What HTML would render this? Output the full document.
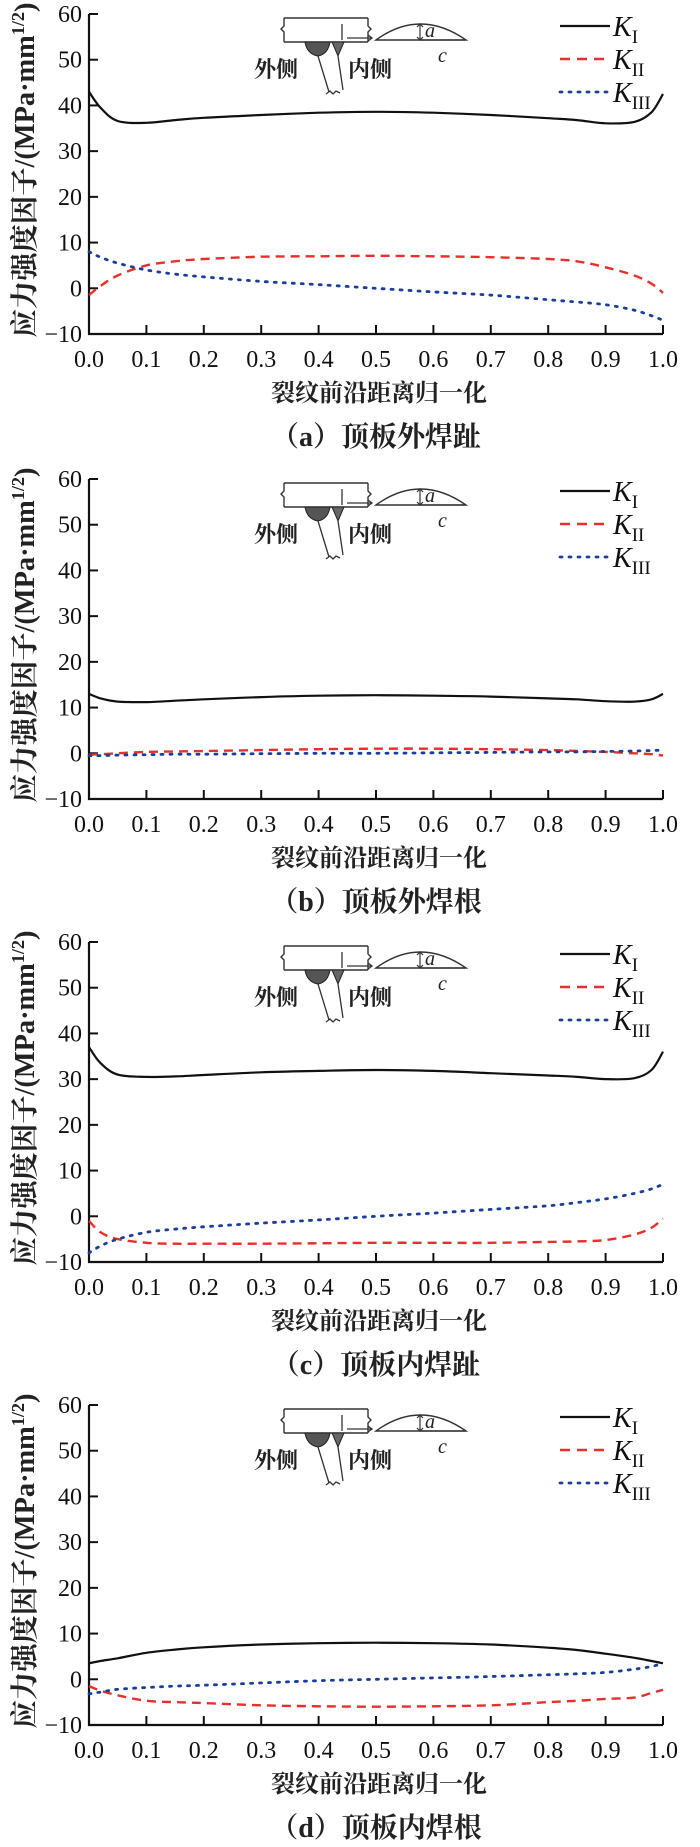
<!DOCTYPE html>
<html><head><meta charset="utf-8">
<style>
html,body{margin:0;padding:0;background:#fff;}
svg{display:block;}
</style></head>
<body>
<svg id="chart" width="700" height="1847" viewBox="0 0 700 1847" xmlns="http://www.w3.org/2000/svg"></svg>
<script>
const xGrid = [0,0.02,0.05,0.1,0.15,0.2,0.3,0.4,0.5,0.6,0.7,0.8,0.85,0.9,0.95,0.98,1.0];
const panelCaptions = ["（a）顶板外焊趾","（b）顶板外焊根","（c）顶板内焊趾","（d）顶板内焊根"];
const yTicks = [60,50,40,30,20,10,0,-10];
const xTicks = [0,0.1,0.2,0.3,0.4,0.5,0.6,0.7,0.8,0.9,1.0];
const aKI  = [43,39.5,36.6,36.2,36.8,37.3,37.9,38.4,38.6,38.4,37.9,37.2,36.8,36.1,36.4,38.5,42.5];
const aKII = [-1.5,0.5,2.8,5,5.9,6.4,6.9,7,7.1,7,6.8,6.4,5.9,4.6,2.8,1,-1];
const aKIII= [8,6.8,5.5,4,3.1,2.5,1.5,0.8,0,-0.8,-1.5,-2.5,-3,-3.6,-4.8,-6,-7];
const bKI  = [13,12,11.3,11.2,11.5,11.8,12.3,12.6,12.7,12.6,12.4,12,11.8,11.4,11.3,11.8,13];
const bKII = [-0.3,-0.2,0,0.3,0.4,0.5,0.7,0.9,1,1,0.9,0.7,0.5,0.3,0,-0.2,-0.5];
const bKIII= [-0.5,-0.5,-0.4,-0.3,-0.2,-0.2,-0.1,0,0,0.1,0.2,0.3,0.3,0.4,0.5,0.6,0.7];
const cKI  = [37,33.5,31,30.5,30.6,30.9,31.5,31.8,32,31.8,31.3,30.8,30.5,30,30.2,32,36];
const cKII = [-1,-3.5,-5,-5.8,-6,-6,-6,-5.9,-5.8,-5.8,-5.8,-5.6,-5.5,-5.2,-4,-2.5,-0.5];
const cKIII= [-8,-6.5,-5,-3.5,-2.8,-2.3,-1.5,-0.8,0,0.7,1.5,2.3,3,3.8,5,6,7];
const dKI  = [3.5,4,4.6,5.8,6.5,7,7.6,7.9,8,7.9,7.6,6.9,6.4,5.6,4.7,4,3.5];
const dKII = [-1.5,-2.5,-3.5,-4.7,-5,-5.2,-5.7,-5.9,-6,-5.9,-5.7,-5,-4.7,-4.3,-4,-3,-2.3];
const dKIII= [-3.2,-2.8,-2.2,-1.8,-1.5,-1.3,-0.8,-0.3,0,0.3,0.6,1,1.2,1.5,2.2,2.8,3.5];
const panelSeries = [[aKI,aKII,aKIII],[bKI,bKII,bKIII],[cKI,cKII,cKIII],[dKI,dKII,dKIII]];

const NS="http://www.w3.org/2000/svg";
const svg=document.getElementById('chart');
const panelTops=[14,479,942,1405];
const X0=89,X1=663,PH=320;
const styles=[{c:'#111',d:null,w:2.2},{c:'#e8302a',d:'9,6',w:2.4},{c:'#1a3f9a',d:'2,7',w:2.8}];
function mk(tag,attrs,parent){const e=document.createElementNS(NS,tag);for(const k in attrs)e.setAttribute(k,attrs[k]);(parent||svg).appendChild(e);return e;}
const serif='"Liberation Serif","Noto Serif CJK SC",serif';
const cjk='"Liberation Serif","Noto Serif CJK SC","Noto Sans CJK SC",serif';
function smooth(pts){
  let d='M'+pts[0][0].toFixed(1)+','+pts[0][1].toFixed(1);
  for(let i=0;i<pts.length-1;i++){
    const p0=pts[Math.max(i-1,0)],p1=pts[i],p2=pts[i+1],p3=pts[Math.min(i+2,pts.length-1)];
    const c1x=p1[0]+(p2[0]-p0[0])/6,c1y=p1[1]+(p2[1]-p0[1])/6;
    const c2x=p2[0]-(p3[0]-p1[0])/6,c2y=p2[1]-(p3[1]-p1[1])/6;
    d+=` C${c1x.toFixed(1)},${c1y.toFixed(1)} ${c2x.toFixed(1)},${c2y.toFixed(1)} ${p2[0].toFixed(1)},${p2[1].toFixed(1)}`;
  }
  return d;
}

panelSeries.forEach((series,pi)=>{
  const T=panelTops[pi];
  const xs=v=>X0+v*(X1-X0);
  const ys=v=>T+(60-v)/70*PH;
  const g=mk('g',{});
  
  
  const ax=mk('path',{d:`M${X0},${T} V${T+PH} H${X1}`,stroke:'#111','stroke-width':2.2,fill:'none'},g);
  
  
  yTicks.forEach(t=>{
    const y=ys(t);
    mk('line',{x1:X0,x2:X0+9,y1:y,y2:y,stroke:'#111','stroke-width':2},g);
    const tx=mk('text',{x:X0-7,y:y+8,'text-anchor':'end','font-family':serif,'font-size':24,fill:'#111'},g);
    tx.textContent=(t<0?'\u2212'+(-t):t);
    
    
  });
  xTicks.forEach(t=>{
    const x=xs(t);
    mk('line',{x1:x,x2:x,y1:T+PH,y2:T+PH-9,stroke:'#111','stroke-width':2},g);
    const tx=mk('text',{x:x,y:T+PH+33,'text-anchor':'middle','font-family':serif,'font-size':24,fill:'#111'},g);
    tx.textContent=t.toFixed(1);
    
    
  });
  const xt=mk('text',{x:(X0+X1)/2+3,y:T+PH+67,'text-anchor':'middle','font-family':cjk,'font-size':24,'font-weight':'bold',fill:'#222'},g);
  xt.textContent='裂纹前沿距离归一化';
  
  
  const cap=mk('text',{x:(X0+X1)/2+0,y:T+PH+112,'text-anchor':'middle','font-family':cjk,'font-size':28,'font-weight':'bold',fill:'#222'},g);
  cap.textContent=panelCaptions[pi];
  
  
  const yt=mk('text',{x:0,y:0,transform:`translate(34,${T+PH/2-4}) rotate(-90)`,'text-anchor':'middle','font-family':cjk,'font-size':28,'font-weight':'bold',fill:'#222',textLength:335,lengthAdjust:'spacingAndGlyphs'},g);
  yt.innerHTML='应力强度因子/(MPa·mm<tspan dy="-10" font-size="18">1/2</tspan><tspan dy="10">)</tspan>';
  
  
  const names=['k1','k2','k3'];
  series.forEach((vals,si)=>{
    const pts=vals.map((v,i)=>[xs(xGrid[i]),ys(v)]);
    const st=styles[si];
    const p=mk('path',{d:smooth(pts),stroke:st.c,'stroke-width':st.w,fill:'none','stroke-linejoin':'round','stroke-linecap':si==2?'round':'butt'},g);
    if(st.d)p.setAttribute('stroke-dasharray',st.d);
    
    
  });
  const subs=['I','II','III'];
  subs.forEach((s,si)=>{
    const ly=T+12+si*33;
    const st=styles[si];
    const l=mk('line',{x1:560,x2:610,y1:ly,y2:ly,stroke:st.c,'stroke-width':st.w,'stroke-linecap':si==2?'round':'butt'},g);
    if(st.d)l.setAttribute('stroke-dasharray',si==1?'10,7':'2,7');
    
    
    const t=mk('text',{x:613,y:ly+10,'font-family':serif,'font-size':28,'font-style':'italic',fill:'#111'},g);
    t.innerHTML='K<tspan dy="7" font-size="19" font-style="normal">'+s+'</tspan>';
    
    
  });
  const ig=mk('g',{transform:`translate(0,${T})`},g);
  
  
  mk('path',{d:'M284,4 H368 M284,28 H368 M284,4 V12 l-3,3 l3,3 V28 M368,4 V12 l3,3 l-3,3 V28',stroke:'#333','stroke-width':1.4,fill:'none'},ig);
  mk('path',{d:'M305,28 H330 Q328,40 318,42 Q307,40 305,28 Z',fill:'#555',stroke:'#222','stroke-width':1},ig);
  mk('path',{d:'M332,28 H344 L338,42 Z',fill:'#666',stroke:'#222','stroke-width':1},ig);
  mk('path',{d:'M318,42 L329,78 M338,42 L343,76 M326,80 l4,-3 l3,3 l3,-3 l4,2',stroke:'#333','stroke-width':1.3,fill:'none'},ig);
  mk('path',{d:'M342,10 V26 M347,24 H372 M368,21 l4,3 l-4,3',stroke:'#333','stroke-width':1.3,fill:'none'},ig);
  mk('path',{d:'M376,26 Q420,-6 466,26 Z',stroke:'#333','stroke-width':1.4,fill:'none'},ig);
  mk('path',{d:'M420,10 V26 M417,13 l3,-3 l3,3 M417,23 l3,3 l3,-3 M420,26 H465',stroke:'#333','stroke-width':1.2,fill:'none'},ig);
  const ta=mk('text',{x:425,y:23,'font-family':serif,'font-size':20,'font-style':'italic',fill:'#222'},ig);ta.textContent='a';
  
  
  const tc=mk('text',{x:438,y:48,'font-family':serif,'font-size':20,'font-style':'italic',fill:'#222'},ig);tc.textContent='c';
  
  
  const t1=mk('text',{x:254,y:63,'font-family':cjk,'font-size':22,'font-weight':'bold',fill:'#222'},ig);t1.textContent='外侧';
  
  
  const t2=mk('text',{x:348,y:63,'font-family':cjk,'font-size':22,'font-weight':'bold',fill:'#222'},ig);t2.textContent='内侧';
  
  
});
</script>
</body></html>
